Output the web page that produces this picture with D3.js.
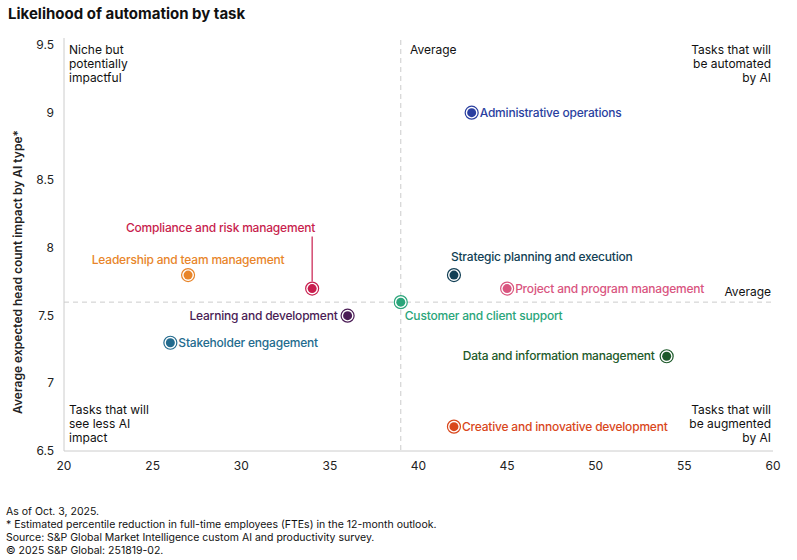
<!DOCTYPE html><html><head><meta charset="utf-8"><script src="https://cdn.jsdelivr.net/npm/d3@7"></script>
<style>body{margin:0;background:#fff;font-family:Inter,"Open Sans",sans-serif}</style></head><body><svg width="797" height="560"></svg><script>
const names=["Administrative operations","Strategic planning and execution","Project and program management","Customer and client support","Data and information management","Creative and innovative development","Leadership and team management","Compliance and risk management","Learning and development","Stakeholder engagement"];
const xs=[43,42,45,39,54,42,27,34,36,26];
const ys=[9.0,7.8,7.7,7.6,7.2,6.68,7.8,7.7,7.5,7.3];
const colors=["#2a3fa0","#123f55","#d9557f","#2aa57a","#1d5a2a","#d9471c","#e8852a","#c81e4e","#4a1c55","#236b8e"];
const xTicks=[20,25,30,35,40,45,50,55,60];
const yTicks=[6.5,7,7.5,8,8.5,9,9.5];
const avgX=39,avgY=7.6;
const svg=d3.select("svg");
const x=d3.scaleLinear().domain([20,60]).range([64,773]);
const y=d3.scaleLinear().domain([6.5,9.5]).range([451,45]);
svg.append("text").attr("x",8).attr("y",19).attr("font-size",15).attr("font-weight",700).attr("fill","#111").text("Likelihood of automation by task");
svg.append("line").attr("x1",64).attr("x2",64).attr("y1",38).attr("y2",451).attr("stroke","#ccc");
svg.append("line").attr("x1",64).attr("x2",773).attr("y1",451).attr("y2",451).attr("stroke","#ccc");
svg.append("g").selectAll("text").data(xTicks).join("text").attr("x",d=>x(d)).attr("y",470).attr("text-anchor","middle").attr("font-size",12).attr("fill","#222").text(d=>d);
svg.append("g").selectAll("text").data(yTicks).join("text").attr("x",54).attr("y",d=>y(d)+4).attr("text-anchor","end").attr("font-size",12).attr("fill","#222").text(d=>d);
svg.append("text").attr("transform","translate(22,272) rotate(-90)").attr("text-anchor","middle").attr("font-size",12).attr("font-weight",600).attr("fill","#222").text("Average expected head count impact by AI type*");
svg.append("line").attr("x1",x(avgX)).attr("x2",x(avgX)).attr("y1",40).attr("y2",451).attr("stroke","#ccc").attr("stroke-dasharray","5,4");
svg.append("line").attr("x1",64).attr("x2",773).attr("y1",y(avgY)).attr("y2",y(avgY)).attr("stroke","#ccc").attr("stroke-dasharray","5,4");
function ml(xx,yy,lines,anchor,fs){const t=svg.append("text").attr("font-size",fs||12).attr("fill","#111").attr("text-anchor",anchor);lines.forEach((l,i)=>t.append("tspan").attr("x",xx).attr("y",yy+i*(fs?13:14)).text(l));}
ml(69,54,["Niche but","potentially","impactful"],"start");
ml(771,54,["Tasks that will","be automated","by AI"],"end");
ml(69,414,["Tasks that will","see less AI","impact"],"start");
ml(771,414,["Tasks that will","be augmented","by AI"],"end");
ml(410,54,["Average"],"start");
ml(771,296,["Average"],"end");
svg.append("line").attr("x1",x(34)).attr("x2",x(34)).attr("y1",y(7.7)-52).attr("y2",y(7.7)-7).attr("stroke","#c81e4e").attr("stroke-width",1.2);
const lab=[[8,4,"start"],[-3,-14,"start"],[8,4,"start"],[4,18,"start"],[-12,4,"end"],[8,4,"start"],[0,-11,"middle"],[3,-57,"end"],[-10,4,"end"],[8,4,"start"]];
const g=svg.append("g");
names.forEach((n,i)=>{
 const cx=x(xs[i]),cy=y(ys[i]);
 g.append("circle").attr("cx",cx).attr("cy",cy).attr("r",6.5).attr("fill","#fff").attr("stroke",colors[i]).attr("stroke-width",1.2);
 g.append("circle").attr("cx",cx).attr("cy",cy).attr("r",4.5).attr("fill",colors[i]);
 g.append("text").attr("x",cx+lab[i][0]).attr("y",cy+lab[i][1]).attr("text-anchor",lab[i][2]).attr("font-size",12).attr("font-weight",500).attr("letter-spacing","-0.2").attr("fill",colors[i]).text(n);
});
ml(6,515,["As of Oct. 3, 2025.","* Estimated percentile reduction in full-time employees (FTEs) in the 12-month outlook.","Source: S&P Global Market Intelligence custom AI and productivity survey.","© 2025 S&P Global: 251819-02."],"start",10.5);
</script></body></html>
